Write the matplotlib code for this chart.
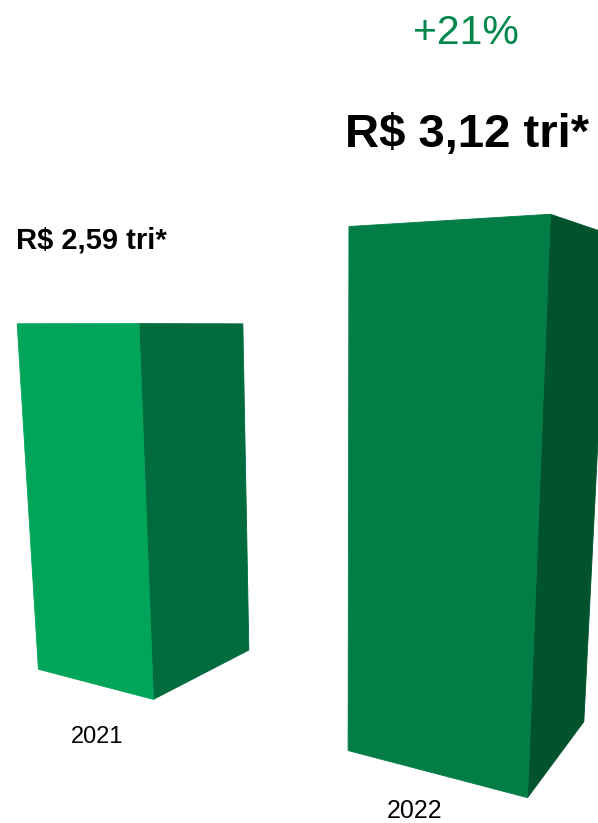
import numpy as np
import matplotlib
matplotlib.use("Agg")
import matplotlib.pyplot as plt

plt.rcParams['font.family'] = ['Liberation Sans', 'DejaVu Sans']

# data
years = ["2021", "2022"]
values = [2.59, 3.12]            # R$ trillions
value_labels = ["R$ 2,59 tri*", "R$ 3,12 tri*"]
growth_label = "+21%"

# colours (front face, side face)
front_colors = ["#00A55A", "#027D46"]
side_colors = ["#006B3C", "#00532C"]
growth_color = "#00874B"

W, H = 598, 823

# pinhole camera, everything in value units (ground at z = 0)
focal = 916.0                    # px
cx, cy = 340.0, 490.0            # principal point, px
tilt = np.deg2rad(10.2)          # camera looks slightly down
eye = 2.58                       # eye height

# bars stand in a row that runs to the right and toward the camera
yaw = np.deg2rad(30.0)
row_dir = np.array([np.cos(yaw), -np.sin(yaw)])
depth_dir = np.array([np.sin(yaw), np.cos(yaw)])
origin = np.array([-2.298, 6.627])
spacing = 2.711
bar_w = 1.144


def project(pts):
    pts = np.asarray(pts, dtype=float)
    x = pts[:, 0]
    y = pts[:, 1]
    z = pts[:, 2] - eye
    depth = y * np.cos(tilt) - z * np.sin(tilt)
    down = -y * np.sin(tilt) - z * np.cos(tilt)
    # image-plane coordinates (the axes limits turn these into pixels)
    return x / depth, down / depth


def world(u, v, z):
    g = origin + u * row_dir + v * depth_dir
    return [g[0], g[1], z]


fig = plt.figure(figsize=(W / 100, H / 100), dpi=100)
ax = fig.add_axes([0, 0, 1, 1])
ax.set_xlim(-cx / focal, (W - cx) / focal)
ax.set_ylim((H - cy) / focal, -cy / focal)
ax.axis("off")

for i, val in enumerate(values):
    u0 = i * spacing
    u1 = u0 + bar_w
    front = [world(u0, 0, 0), world(u1, 0, 0), world(u1, 0, val), world(u0, 0, val)]
    side = [world(u1, 0, 0), world(u1, bar_w, 0), world(u1, bar_w, val), world(u1, 0, val)]
    for face, col in [(side, side_colors[i]), (front, front_colors[i])]:
        px, py = project(face)
        ax.fill(px, py, color=col, lw=0.6, ec=col, zorder=2)


def fpos(x, y):
    return x / W, 1 - y / H


fig.text(*fpos(97, 743), years[0], ha="center", va="baseline", fontsize=17)
fig.text(*fpos(415, 822.5), years[1], ha="center", va="bottom", fontsize=18)

fig.text(*fpos(91, 249), value_labels[0], ha="center", va="baseline",
         fontsize=21, fontweight="bold")
fig.text(*fpos(467, 147.5), value_labels[1], ha="center", va="baseline",
         fontsize=34, fontweight="bold")

fig.text(*fpos(466, 44), growth_label, ha="center", va="baseline",
         fontsize=29.5, color=growth_color)

fig.savefig("out.png", dpi=100)
